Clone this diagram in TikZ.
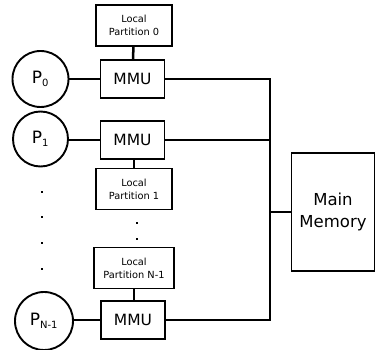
\documentclass[tikz,border=0pt]{standalone}
\usepackage{fontspec}
\setmainfont{DejaVu Sans}
\begin{document}
\begin{tikzpicture}[x=1pt,y=-1pt,
  box/.style={draw,line width=1.9pt,inner sep=0pt,align=center},
  mmubox/.style={box,minimum width=64pt,minimum height=38pt,font=\fontsize{15.5}{18}\selectfont},
  partbox/.style={box,minimum height=41pt,font=\fontsize{9.8}{13.3}\selectfont},
  proc/.style={draw,circle,line width=1.9pt,inner sep=0pt,font=\fontsize{17}{20}\selectfont},
  wire/.style={line width=2.5pt},
  dot/.style={fill,minimum size=2.6pt,inner sep=0pt}]
\useasboundingbox (0,0) rectangle (376,350);

% local partitions
\node[partbox,minimum width=76pt] (lp0) at (134,25.5) {Local\\Partition 0};
\node[partbox,minimum width=76pt] (lp1) at (134,189) {Local\\Partition 1};
\node[partbox,minimum width=80pt] (lpn) at (134,268) {Local\\Partition N-1};

% memory management units
\node[mmubox] (mmu0) at (132.5,79) {MMU};
\node[mmubox] (mmu1) at (132.5,140) {MMU};
\node[mmubox] (mmun) at (133,320) {MMU};

% processors
\node[proc,minimum size=56pt] (p0) at (40.5,79) {P\textsubscript{\fontsize{10}{10}\selectfont 0}};
\node[proc,minimum size=55pt] (p1) at (40.5,139) {P\textsubscript{\fontsize{10}{10}\selectfont 1}};
\node[proc,minimum size=58pt] (pn) at (44,321) {P\textsubscript{\fontsize{10}{10}\selectfont N-1}};

% main memory
\node[box,minimum width=83pt,minimum height=118pt,font=\fontsize{16.5}{22}\selectfont] (mm) at (333,212) {Main\\Memory};

% bus column
\coordinate (bus) at (270,0);

% connectors
\draw[wire] (p0.east |- mmu0) -- (mmu0);
\draw[wire] (p1.east |- mmu1) -- (mmu1);
\draw[wire] (pn.east |- mmun) -- (mmun);
\draw[wire] (lp0) -- (mmu0);
\draw[wire] (mmu1.south -| lp1) -- (lp1);
\draw[wire] (lpn) -- (mmun.north -| lpn);
\draw[wire] (mmu0.east) -- (mmu0.east -| bus) -- (mmun.east -| bus) -- (mmun.east);
\draw[wire] (mmu1.east) -- (mmu1.east -| bus);
\draw[wire] (mm.west) -- (mm.west -| bus);

% ellipsis dots
\foreach \i/\y in {1/192,2/217,3/243,4/269}
  \node[dot] (ld\i) at (42,\y) {};
\foreach \i/\y in {1/223,2/239}
  \node[dot] (cd\i) at (137,\y) {};
\end{tikzpicture}
\end{document}
